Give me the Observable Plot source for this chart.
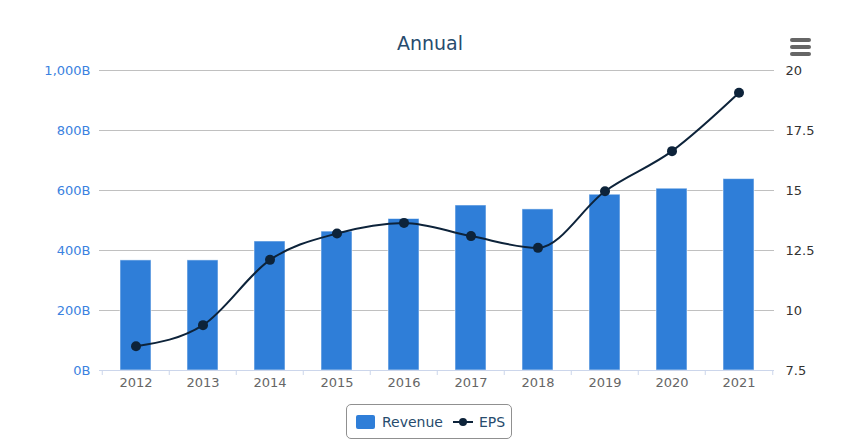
<!DOCTYPE html>
<html>
<head>
<meta charset="utf-8">
<script src="https://cdn.jsdelivr.net/npm/d3@7"></script>
<script src="https://cdn.jsdelivr.net/npm/@observablehq/plot@0.6"></script>
<style>
  html, body { margin: 0; padding: 0; background: #fff; }
  #wrap { position: relative; width: 860px; height: 444px; font-family: "DejaVu Sans", sans-serif; overflow: hidden; }
  #title { position: absolute; left: 0; width: 860px; top: 32px; text-align: center; font-size: 19px; color: #274b6d; }
  #chart { position: absolute; left: 0; top: 60px; }
  #menu { position: absolute; left: 790px; top: 38px; width: 21px; height: 18px; }
  #menu span { position: absolute; left: 0; width: 21px; height: 4px; border-radius: 2px; background: #666; }
  #legend { position: absolute; left: 346px; top: 404px; width: 164px; height: 33px; border: 1px solid #909090; border-radius: 5px; box-sizing: content-box; display: flex; align-items: center; font-size: 14px; color: #274b6d; }
  .sw { display: inline-block; width: 19px; height: 14px; background: #2f7ed8; border-radius: 2px; margin-left: 9px; margin-right: 7px; }
  .ls { position: relative; display: inline-block; width: 20px; height: 14px; margin-left: 10px; margin-right: 6px; }
  .ls::before { content: ""; position: absolute; left: 0; top: 6px; width: 20px; height: 2px; background: #0d233a; }
  .ls::after { content: ""; position: absolute; left: 6px; top: 3px; width: 8px; height: 8px; border-radius: 50%; background: #0d233a; }
</style>
</head>
<body>
<div id="wrap">
  <div id="title">Annual</div>
  <div id="menu"><span style="top:0"></span><span style="top:7px"></span><span style="top:14px"></span></div>
  <div id="chart"></div>
  <div id="legend"><span class="sw"></span><span>Revenue</span><span class="ls"></span><span>EPS</span></div>
</div>
<script>
const years = ["2012","2013","2014","2015","2016","2017","2018","2019","2020","2021"];
const revenue = [367, 367, 430, 463, 505, 550, 537, 586, 606, 638]; // billions
const eps = [8.51, 9.39, 12.11, 13.21, 13.65, 13.10, 12.61, 14.97, 16.64, 19.07];
const revTicks = [0, 200, 400, 600, 800, 1000];
const epsTicks = [7.5, 10, 12.5, 15, 17.5, 20];

const epsMin = 7.5, epsMax = 20, revMax = 1000;
const epsToY = e => (e - epsMin) / (epsMax - epsMin) * revMax;

const data = years.map((y, i) => ({year: y, revenue: revenue[i], eps: eps[i], epsY: epsToY(eps[i])}));

const pad = 0.54;
const step = 675 / years.length;

const chart = Plot.plot({
  width: 860,
  height: 340,
  marginTop: 10,
  marginBottom: 30,
  marginLeft: 99,
  marginRight: 86,
  style: {fontFamily: "DejaVu Sans, sans-serif", fontSize: "13px", background: "transparent"},
  x: {domain: years, paddingInner: pad, paddingOuter: pad / 2, label: null},
  y: {domain: [0, revMax], label: null},
  marks: [
    Plot.gridY(revTicks, {stroke: "#c0c0c0", strokeOpacity: 1}),
    Plot.barY(data, {x: "year", y: "revenue", fill: "#2f7ed8", stroke: "#ffffff", strokeOpacity: 0.55, strokeWidth: 1}),
    Plot.ruleY([0], {stroke: "#ccd6eb", strokeWidth: 1}),
    Plot.axisX({tickSize: 5, dx: -step / 2, tickFormat: () => "", stroke: "#ccd6eb"}),
    Plot.axisX({ticks: [years[years.length - 1]], tickSize: 5, dx: step / 2, tickFormat: () => "", stroke: "#ccd6eb"}),
    Plot.axisX({tickSize: 0, tickPadding: 7, fill: "#666666", fontSize: 13}),
    Plot.axisY({ticks: revTicks, tickSize: 0, tickPadding: 9, tickFormat: d => d3.format(",")(d) + "B", fill: "#3b82e0", fontSize: 13}),
    Plot.axisY({anchor: "right", ticks: epsTicks.map(epsToY), tickSize: 0, tickPadding: 11,
      tickFormat: (d, i) => String(epsTicks[i]), fill: "#333333", fontSize: 13}),
    Plot.lineY(data, {x: "year", y: "epsY", stroke: "#0d233a", strokeWidth: 2, curve: "monotone-x"}),
    Plot.dot(data, {x: "year", y: "epsY", r: 5, fill: "#0d233a"})
  ]
});
document.getElementById("chart").appendChild(chart);
</script>
</body>
</html>
